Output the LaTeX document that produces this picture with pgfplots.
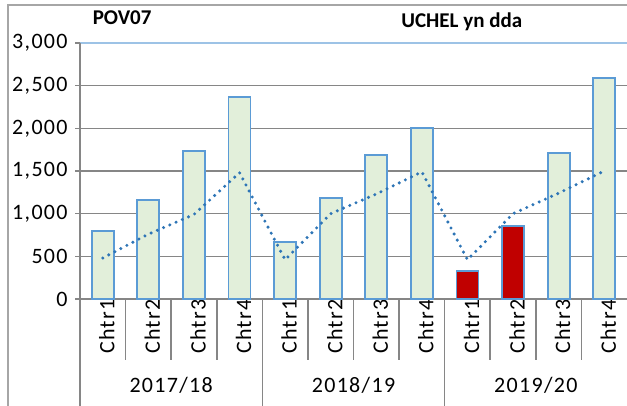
\documentclass[border=0pt]{standalone}
\usepackage{fontspec}
\setmainfont{Carlito}
\newfontfamily\tickfont[LetterSpace=6]{Carlito}
\usepackage{pgfplots}
\pgfplotsset{compat=1.18}
\usetikzlibrary{calc}
\definecolor{barfill}{HTML}{E2EFDA}
\definecolor{barline}{HTML}{5B9BD5}
\definecolor{redbar}{HTML}{C00000}
\definecolor{target}{HTML}{2E75B6}
\definecolor{gridgray}{HTML}{868686}
\definecolor{topline}{HTML}{9DC3E6}
\definecolor{framegray}{HTML}{A6A6A6}
\newcommand{\tf}{\tickfont\fontsize{11}{13}\selectfont}
\newcommand{\ttl}{\bfseries\fontsize{10.5}{12}\selectfont}

\begin{document}
\begin{tikzpicture}
\begin{axis}[
  name=ax,
  scale only axis,
  width=273.5pt, height=128pt,
  xmin=-0.5, xmax=11.5,
  ymin=0, ymax=3000,
  clip=false,
  axis line style={draw=none},
  ytick={0,500,...,3000},
  ymajorgrids=true,
  grid style={gridgray, line width=0.8pt},
  ytick pos=left,
  ytick align=outside,
  major tick length=2.5pt,
  tick style={gridgray, line width=0.8pt},
  xtick={0,...,11},
  xticklabels={Chtr1,Chtr2,Chtr3,Chtr4,Chtr1,Chtr2,Chtr3,Chtr4,Chtr1,Chtr2,Chtr3,Chtr4},
  x tick style={draw=none},
  xticklabel style={rotate=90, anchor=east, inner sep=0pt, yshift=-2pt, font=\tf},
  yticklabel style={anchor=east, inner sep=0pt, xshift=-3.5pt, font=\tf},
  /pgf/number format/.cd, 1000 sep={,}, assume math mode=true,
]
% actual values, green bars
\addplot[ybar, bar width=11pt, bar shift=0pt, fill=barfill, draw=barline, line width=0.9pt]
  coordinates {(0,800) (1,1160) (2,1735) (3,2370) (4,670) (5,1180) (6,1690) (7,2000) (10,1710) (11,2590)};
% below target, red bars
\addplot[ybar, bar width=11pt, bar shift=0pt, fill=redbar, draw=barline, line width=0.9pt]
  coordinates {(8,330) (9,860)};
% target line
\addplot[target, line width=1.7pt, line cap=round, dash pattern=on 0pt off 3.4pt, no marks, sharp plot]
  coordinates {(0,480) (1,760) (2,990) (3,1480) (4,460) (5,1000) (6,1230) (7,1490) (8,460) (9,1000) (10,1240) (11,1500)};

% top line and left axis
\draw[topline, line width=0.9pt] (axis cs:-0.5,3000) -- (axis cs:11.5,3000);
\draw[gridgray, line width=0.8pt] (axis cs:-0.5,3000) -- (axis cs:-0.5,-1260);
% category separators
\pgfplotsinvokeforeach{0.5,1.5,2.5,4.5,5.5,6.5,8.5,9.5,10.5}{
  \draw[gridgray, line width=0.8pt] (axis cs:#1,0) -- (axis cs:#1,-715);
}
\pgfplotsinvokeforeach{3.5,7.5}{
  \draw[gridgray, line width=0.8pt] (axis cs:#1,0) -- (axis cs:#1,-1260);
}
% group labels
\node[font=\tf] at (axis cs:1.5,-1008) {2017/18};
\node[font=\tf] at (axis cs:5.5,-1008) {2018/19};
\node[font=\tf] at (axis cs:9.5,-1008) {2019/20};
% titles
\node[font=\ttl] at (rel axis cs:0.077,1.10) {POV07};
\node[font=\ttl] at (rel axis cs:0.698,1.082) {UCHEL yn dda};
\end{axis}
% outer frame
\draw[framegray, line width=1pt] ($(ax.south west)+(-36pt,-60pt)$) -- ($(ax.north west)+(-36pt,19pt)$) -- ($(ax.north east)+(10pt,19pt)$);
\pgfresetboundingbox
\path[use as bounding box] ($(ax.south west)+(-40pt,-53.5pt)$) rectangle ($(ax.north east)+(0pt,21.5pt)$);
\end{tikzpicture}
\end{document}
